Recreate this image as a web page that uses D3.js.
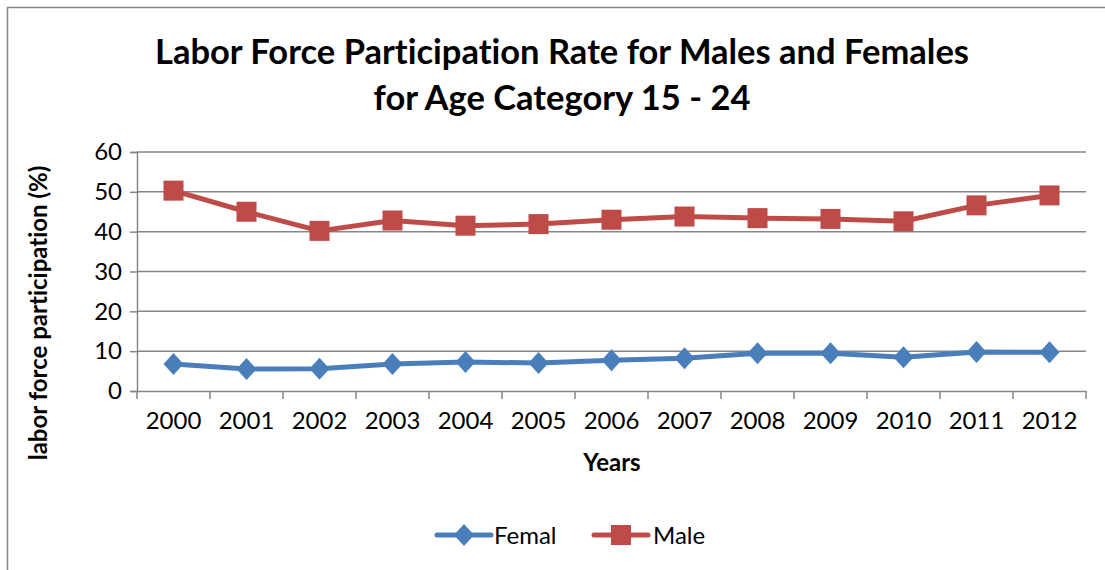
<!DOCTYPE html>
<html>
<head>
<meta charset="utf-8">
<script src="https://cdn.jsdelivr.net/npm/d3@7/dist/d3.min.js"></script>
<style>
  html, body { margin: 0; padding: 0; background: #fff; }
  svg { display: block; }
  text { font-family: "Lato", "Open Sans", sans-serif; fill: #000; font-variant-ligatures: none; }
</style>
</head>
<body>
<svg id="chart" width="1105" height="570"></svg>
<script>
// Labor force participation rate (%) for ages 15-24
const years = ["2000","2001","2002","2003","2004","2005","2006","2007","2008","2009","2010","2011","2012"];
const femaleRate = [6.8, 5.5, 5.6, 6.8, 7.3, 7.0, 7.7, 8.2, 9.5, 9.5, 8.5, 9.8, 9.7];
const maleRate = [50.3, 45.0, 40.2, 42.8, 41.5, 41.9, 43.0, 43.8, 43.4, 43.2, 42.6, 46.6, 49.1];
const yTicks = [0, 10, 20, 30, 40, 50, 60];
const seriesNames = ["Femal", "Male"];

const svg = d3.select("#chart");
const gridColor = "#868686";
const blue = "#4a7ebb", red = "#be4b48";

// chart frame
svg.append("rect")
  .attr("x", 7.5).attr("y", 7.5)
  .attr("width", 1120).attr("height", 580)
  .attr("fill", "none").attr("stroke", gridColor).attr("stroke-width", 1.5);

const plot = { left: 137, right: 1086, top: 152, bottom: 391 };

const x = d3.scaleBand().domain(years).range([plot.left, plot.right]);
const y = d3.scaleLinear().domain([0, 60]).range([plot.bottom, plot.top]);

// title
const title = svg.append("text")
  .attr("text-anchor", "middle")
  .attr("font-weight", "bold")
  .attr("font-size", 34.5);
title.append("tspan").attr("x", 562).attr("y", 64).text("Labor Force Participation Rate for Males and Females");
title.append("tspan").attr("x", 562).attr("y", 110).text("for Age Category 15 - 24");

// horizontal gridlines
svg.append("g")
  .selectAll("line")
  .data(yTicks.filter(d => d > 0))
  .join("line")
  .attr("x1", plot.left).attr("x2", plot.right)
  .attr("y1", d => y(d)).attr("y2", d => y(d))
  .attr("stroke", gridColor).attr("stroke-width", 1.5);

// y axis
const yAxis = svg.append("g")
  .attr("transform", `translate(${plot.left},0)`)
  .call(d3.axisLeft(y).tickValues(yTicks).tickSize(7).tickPadding(8).tickFormat(d3.format("d")));
yAxis.select(".domain").attr("stroke", gridColor).attr("stroke-width", 1.5);
yAxis.selectAll(".tick line").attr("stroke", gridColor).attr("stroke-width", 1.5);
yAxis.selectAll(".tick text").attr("font-size", 24).attr("font-family", "Lato, sans-serif").attr("fill", "#000");

// x axis with ticks between categories
const xAxis = svg.append("g")
  .attr("transform", `translate(0,${plot.bottom})`)
  .call(d3.axisBottom(x).tickSize(0).tickPadding(21));
xAxis.select(".domain").attr("stroke", gridColor).attr("stroke-width", 1.5);
xAxis.selectAll(".tick text").attr("font-size", 24).attr("font-family", "Lato, sans-serif").attr("fill", "#000");
xAxis.selectAll("line.sep")
  .data(years.map(d => x(d)).concat([plot.right]))
  .join("line")
  .attr("class", "sep")
  .attr("x1", d => d).attr("x2", d => d)
  .attr("y1", 0).attr("y2", 8)
  .attr("stroke", gridColor).attr("stroke-width", 1.5);

// axis titles
svg.append("text")
  .attr("text-anchor", "middle").attr("font-weight", "bold").attr("font-size", 24)
  .attr("transform", "translate(47,313) rotate(-90)")
  .text("labor force participation (%)");
svg.append("text")
  .attr("text-anchor", "middle").attr("font-weight", "bold").attr("font-size", 24)
  .attr("x", 612).attr("y", 471)
  .text("Years");

const cx = d => x(d) + x.bandwidth() / 2;
const line = d3.line().x(d => cx(d.year)).y(d => y(d.value));

const series = [
  { name: seriesNames[0], color: blue, shape: "diamond", values: years.map((yr, i) => ({ year: yr, value: femaleRate[i] })) },
  { name: seriesNames[1], color: red, shape: "square", values: years.map((yr, i) => ({ year: yr, value: maleRate[i] })) }
];

function marker(g, shape, color) {
  if (shape === "square") {
    g.append("rect").attr("x", -10).attr("y", -10).attr("width", 20).attr("height", 20).attr("fill", color);
  } else {
    g.append("path").attr("d", "M0,-11 L10,0 L0,11 L-10,0 Z").attr("fill", color);
  }
}

series.forEach(s => {
  svg.append("path")
    .datum(s.values)
    .attr("d", line)
    .attr("fill", "none")
    .attr("stroke", s.color)
    .attr("stroke-width", 5)
    .attr("stroke-linejoin", "round");
  svg.append("g").selectAll("g")
    .data(s.values)
    .join("g")
    .attr("transform", d => `translate(${cx(d.year)},${y(d.value)})`)
    .each(function () { marker(d3.select(this), s.shape, s.color); });
});

// legend
const legendItems = [
  { s: series[0], x0: 437, tx: 494 },
  { s: series[1], x0: 594, tx: 653 }
];
legendItems.forEach(({ s, x0, tx }) => {
  const g = svg.append("g").attr("transform", `translate(0,535)`);
  g.append("line").attr("x1", x0).attr("x2", x0 + 54).attr("y1", 0).attr("y2", 0)
    .attr("stroke", s.color).attr("stroke-width", 5).attr("stroke-linecap", "round");
  const m = g.append("g").attr("transform", `translate(${x0 + 27},0)`);
  marker(m, s.shape, s.color);
  g.append("text").attr("x", tx).attr("y", 9).attr("font-size", 24).text(s.name);
});
</script>
</body>
</html>
